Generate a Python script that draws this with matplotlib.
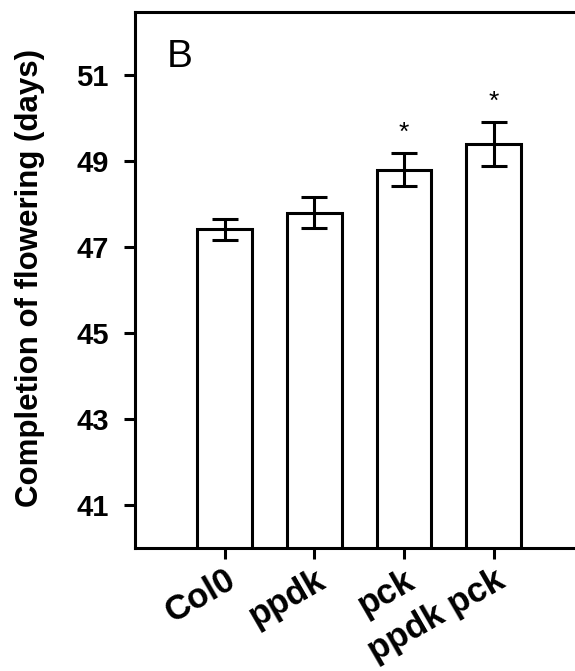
import matplotlib
matplotlib.use("Agg")
import matplotlib.pyplot as plt
import matplotlib.transforms as mtransforms
import numpy as np

categories = ["Col0", "ppdk", "pck", "ppdk pck"]
means = [47.41, 47.80, 48.80, 49.40]
errors = [0.245, 0.36, 0.385, 0.51]
significant = [False, False, True, True]
yticks = [41, 43, 45, 47, 49, 51]

plt.rcParams['font.family'] = ['Liberation Sans', 'DejaVu Sans']

fig = plt.figure(figsize=(5.75, 6.71), dpi=100)
W, H = 575, 671
left, right, bottom, top = 135, 575, 548, 12
ax = fig.add_axes([left / W, 1 - bottom / H, (right - left) / W, (bottom - top) / H])

x = np.arange(len(categories))
lw = 2.2
ax.bar(x, means, width=0.61, bottom=0, color='white', edgecolor='black', linewidth=lw, zorder=2)
ax.errorbar(x, means, yerr=errors, fmt='none', ecolor='black', elinewidth=lw,
            capsize=9.4, capthick=lw, zorder=3)

for xi, m, e, s in zip(x, means, errors, significant):
    if s:
        ax.text(xi, m + e + 0.3, "*", ha='center', va='baseline', fontsize=19)

ax.set_xlim(-1.0, 3.905)
ax.set_ylim(40, 52.47)
ax.set_yticks(yticks)
ax.set_yticklabels([str(t) for t in yticks], fontsize=21, fontweight='bold')
ax.set_xticks(x)
ax.set_xticklabels(categories, fontsize=25, fontweight='bold', rotation=30,
                   ha='right', rotation_mode='anchor')

offset = mtransforms.ScaledTranslation(6 / 100, 0, fig.dpi_scale_trans)
for lab in ax.get_xticklabels():
    lab.set_transform(lab.get_transform() + offset)

ax.tick_params(axis='both', direction='out', length=8, width=lw)
ax.tick_params(axis='y', pad=11)
ax.tick_params(axis='x', pad=3)

for side in ['left', 'bottom', 'top']:
    ax.spines[side].set_linewidth(lw)
ax.spines['right'].set_visible(False)

ax.set_ylabel("Completion of flowering (days)", fontsize=22.5, fontweight='bold')
ax.yaxis.set_label_coords(-0.205, 0.504)

ax.text(0.102, 0.916, "B", transform=ax.transAxes, fontsize=28, ha='center', va='center')

fig.savefig("out.png", dpi=100)
